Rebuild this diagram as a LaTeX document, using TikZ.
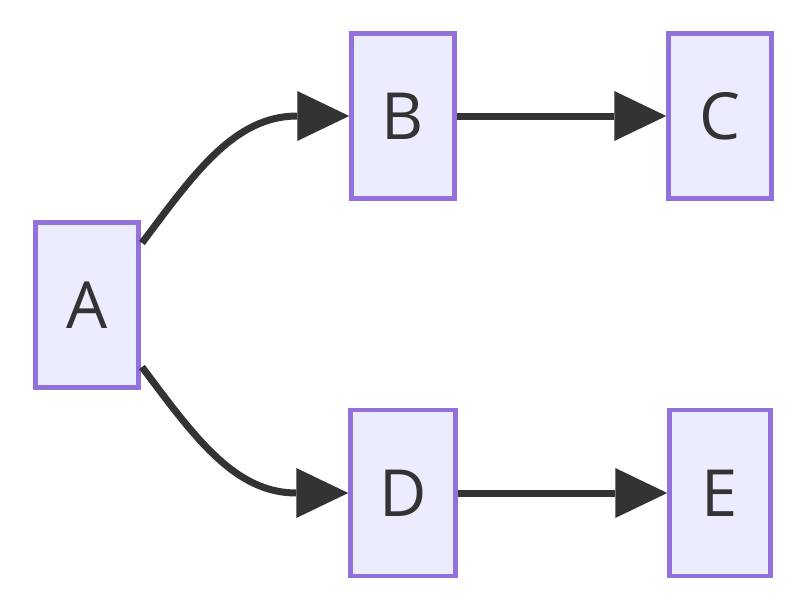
\documentclass[tikz,border=0pt]{standalone}
\usepackage{fontspec}
\setmainfont{Open Sans}
\usetikzlibrary{arrows.meta}
\definecolor{nodefill}{HTML}{ECECFF}
\definecolor{nodeborder}{HTML}{9370DB}
\definecolor{ink}{HTML}{333333}
\tikzset{
  box/.style={draw=nodeborder, fill=nodefill, line width=4.5pt, inner sep=0pt,
    minimum width=103pt, minimum height=165pt, text=ink,
    font=\fontsize{65}{65}\selectfont},
  link/.style={draw=ink, line width=7pt,
    -{Triangle[length=52pt,width=50pt,line width=0pt]}}
}
\begin{document}
\begin{tikzpicture}[x=1pt,y=-1pt]
\useasboundingbox (0,0) rectangle (800,602);
\node[box] (A) at (87,305) {A};
\node[box] (B) at (403,116) {B};
\node[box] (C) at (720,116) {C};
\node[box, minimum width=105pt, minimum height=166pt] (D) at (403,493) {D};
\node[box, minimum width=101pt, minimum height=166pt] (E) at (720,493) {E};
\coordinate (a1) at (142,243);
\coordinate (a2) at (142,367);
\draw[link] (a1) .. controls (195,172) and (235,116) .. (B.west);
\draw[link] (a2) .. controls (195,438) and (235,493) .. (D.west);
\draw[link] (B.east) -- (C.west);
\draw[link] (D.east) -- (E.west);
\end{tikzpicture}
\end{document}
